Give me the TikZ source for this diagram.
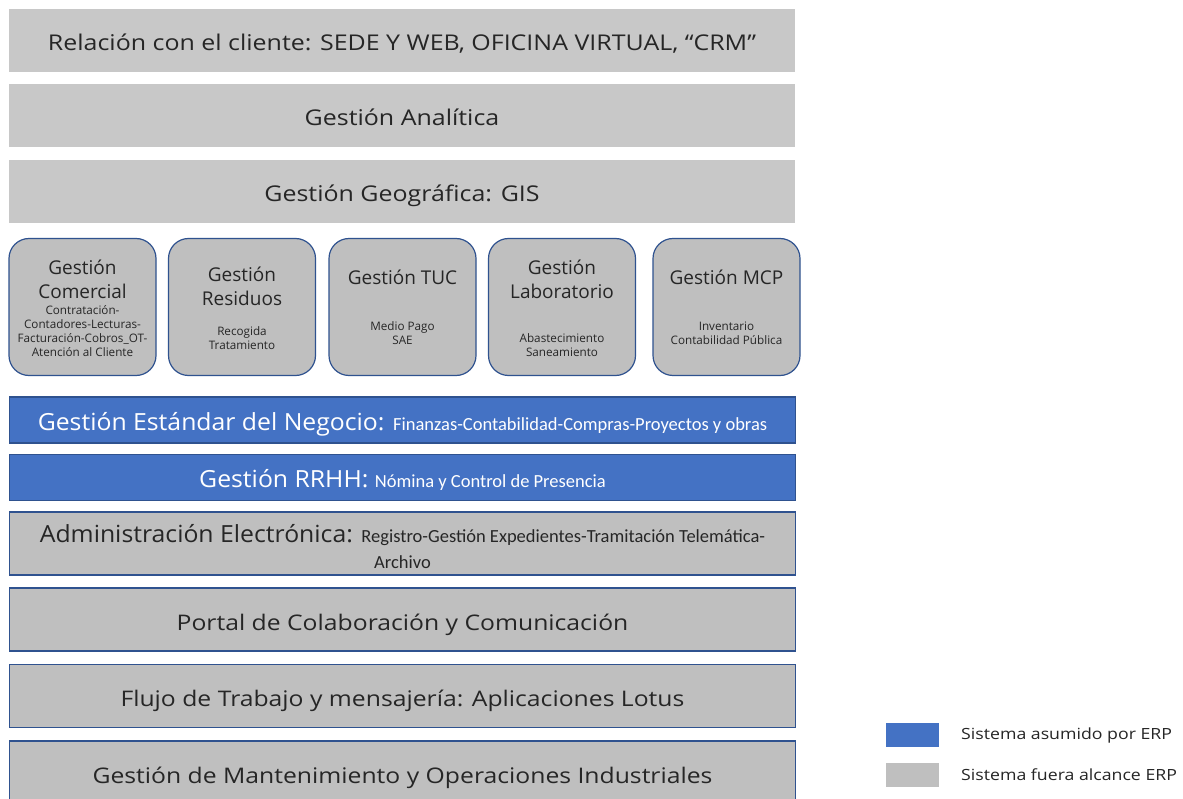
\documentclass[tikz,border=0pt]{standalone}
\usepackage{fontspec}
\setmainfont{Open Sans}
\newfontfamily\widef[FakeStretch=1.15]{Open Sans}
\newfontfamily\bandf[FakeStretch=1.05]{Open Sans}
\newfontfamily\carl{Carlito}
\definecolor{topgrey}{HTML}{C8C8C8}
\definecolor{boxgrey}{HTML}{BFBFBF}
\definecolor{edgeblue}{HTML}{2F528F}
\definecolor{erpblue}{HTML}{4472C4}
\definecolor{txt}{HTML}{262626}
\newcommand{\fsz}[1]{\fontsize{#1}{#1}\selectfont}
\tikzset{
  topband/.style={rectangle, fill=topgrey, draw=none, inner sep=0pt, text=txt,
    minimum width=786pt, minimum height=63pt, font=\widef\fsz{21.7}, text height=24pt, text depth=4pt},
  lowband/.style={rectangle, fill=boxgrey, draw=edgeblue, line width=1.2pt, inner sep=0pt, text=txt,
    minimum width=786pt, minimum height=63pt, font=\widef\fsz{21.5}, align=center, text height=25pt, text depth=4pt},
  boxonly/.style={rectangle, fill=boxgrey, draw=edgeblue, line width=1.2pt, inner sep=0pt,
    minimum width=786pt, minimum height=63pt},
  blueband/.style={rectangle, fill=erpblue, draw=edgeblue, line width=1.2pt, inner sep=0pt, text=white,
    minimum width=786pt, minimum height=46pt, text height=24pt, text depth=4pt},
  rbox/.style={rectangle, rounded corners=20pt, fill=boxgrey, draw=edgeblue, line width=1.2pt,
    minimum width=147pt, minimum height=137pt, inner sep=0pt},
  ttl/.style={text=txt, align=center, font=\fontsize{19}{24}\selectfont, inner sep=0pt},
  sub/.style={text=txt, align=center, font=\fontsize{11.7}{14.2}\selectfont, inner sep=0pt},
  legbox/.style={rectangle, minimum width=53pt, minimum height=24pt, inner sep=0pt, draw=none},
  legtxt/.style={anchor=west, text=txt, font=\widef\fsz{15.4}, inner sep=0pt}
}
\newcommand{\bigpart}[1]{{\bandf\fsz{23.6}#1}}
\newcommand{\smallpart}[1]{{\carl\fsz{18.5}#1}}
\begin{document}
\begin{tikzpicture}[x=1pt,y=-1pt]
\useasboundingbox[fill=white] (0,0) rectangle (1183,799);
% top bands
\node[topband] (rel) at (402,40.5) {Relación con el cliente: SEDE Y WEB, OFICINA VIRTUAL, “CRM”};
\node[topband] (ana) at (402,116) {Gestión Analítica};
\node[topband] (geo) at (402,192) {Gestión Geográfica: GIS};
% rounded boxes
\node[rbox] (com) at (82.5,307) {};
\node[rbox] (res) at (242,307) {};
\node[rbox] (tuc) at (402.5,307) {};
\node[rbox] (lab) at (562,307) {};
\node[rbox] (mcp) at (726.5,307) {};
\node[ttl] (comt) at (82.5,279) {Gestión\\Comercial};
\node[sub] (coms) at (82.5,331) {Contratación-\\Contadores-Lecturas-\\Facturación-Cobros\_OT-\\Atención al Cliente};
\node[ttl] (rest) at (242,286) {Gestión\\Residuos};
\node[sub] (ress) at (242,338.5) {Recogida\\Tratamiento};
\node[ttl] (tuct) at (402.5,277) {Gestión TUC};
\node[sub] (tucs) at (402.5,333) {Medio Pago\\SAE};
\node[ttl] (labt) at (562,279) {Gestión\\Laboratorio};
\node[sub] (labs) at (562,345.5) {Abastecimiento\\Saneamiento};
\node[ttl] (mcpt) at (726.5,277) {Gestión MCP};
\node[sub] (mcps) at (726.5,333) {Inventario\\Contabilidad Pública};
% blue bands
\node[blueband] (neg) at (402.5,420) {\bigpart{Gestión Estándar del Negocio: }\smallpart{Finanzas-Contabilidad-Compras-Proyectos y obras}};
\node[blueband] (rrhh) at (402.5,477.5) {\bigpart{Gestión RRHH: }\smallpart{Nómina y Control de Presencia}};
% lower bands
\node[boxonly] (adm) at (402.5,543.5) {};
\node[text=txt, align=center, inner sep=0pt, font=\fontsize{20}{26}\selectfont] (admt) at (402.5,547) {\bigpart{Administración Electrónica: }\smallpart{Registro-Gestión Expedientes-Tramitación Telemática-}\\\smallpart{Archivo}};
\node[lowband] (por) at (402.5,619.5) {Portal de Colaboración y Comunicación};
\node[lowband] (flu) at (402.5,696) {Flujo de Trabajo y mensajería: Aplicaciones Lotus};
\node[lowband] (man) at (402.5,772.5) {Gestión de Mantenimiento y Operaciones Industriales};
% legend
\node[legbox, fill=erpblue] (lb1) at (912.5,735) {};
\node[legbox, fill=boxgrey] (lb2) at (912.5,775) {};
\node[legtxt] (lt1) at (961,735) {Sistema asumido por ERP};
\node[legtxt] (lt2) at (961,775) {Sistema fuera alcance ERP};
\end{tikzpicture}
\end{document}
